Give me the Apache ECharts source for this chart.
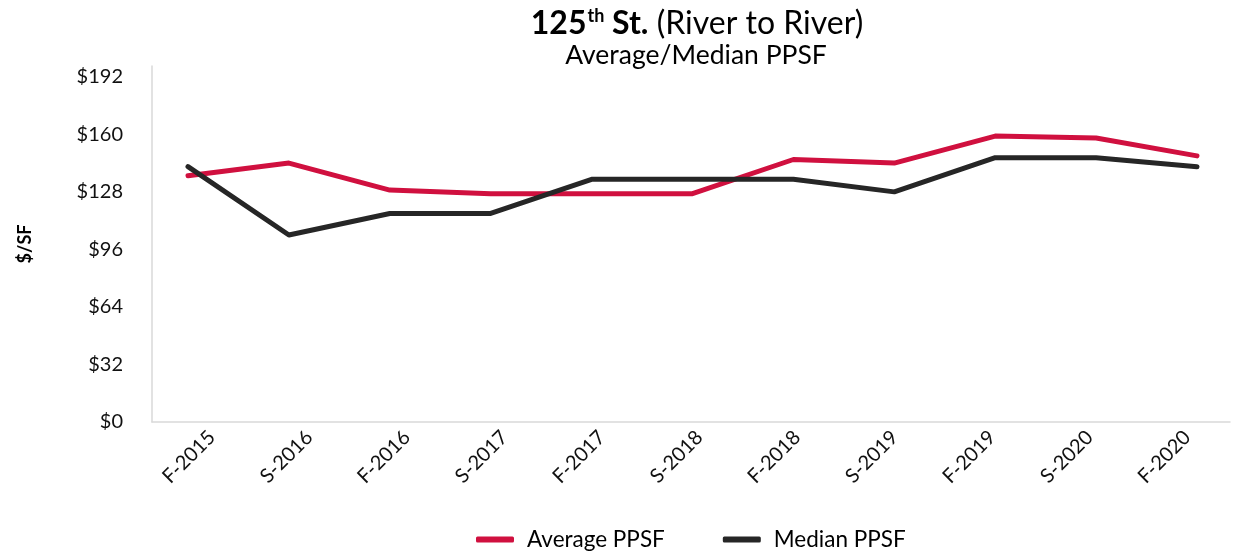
<!DOCTYPE html>
<html>
<head>
<meta charset="utf-8">
<style>
  html, body { margin: 0; padding: 0; background: #ffffff; }
  #chart { width: 1236px; height: 552px; }
</style>
<script src="https://cdn.jsdelivr.net/npm/echarts@6/dist/echarts.min.js"></script>
</head>
<body>
<div id="chart"></div>
<script>
// Survey periods (F = fall, S = spring)
const categories = ['F-2015', 'S-2016', 'F-2016', 'S-2017', 'F-2017', 'S-2018',
                    'F-2018', 'S-2019', 'F-2019', 'S-2020', 'F-2020'];
// Price per square foot, in dollars
const averagePPSF = [137, 144, 129, 127, 127, 127, 146, 144, 159, 158, 148];
const medianPPSF  = [142, 104, 116, 116, 135, 135, 135, 128, 147, 147, 142];
// Value axis ticks
const yMin = 0;
const yMax = 198;
const yStep = 32;

const FONT = 'Lato, "Noto Sans", sans-serif';
const RED = '#d0103f';
const DARK = '#262626';
const AXIS_GREY = '#d9d9d9';

const chart = echarts.init(document.getElementById('chart'));

chart.setOption({
  animation: false,
  backgroundColor: '#ffffff',
  textStyle: { fontFamily: FONT },
  title: [
    {
      text: '{b|125}{sup|th}{b| St.}{r| (River to River)}',
      left: 692,
      textAlign: 'center',
      top: 0,
      textStyle: {
        rich: {
          b: { fontFamily: FONT, fontSize: 32, fontWeight: 'bold', color: '#000', lineHeight: 37 },
          sup: { fontFamily: FONT, fontSize: 18, fontWeight: 'bold', color: '#000', padding: [0, 0, 15, 1], lineHeight: 37 },
          r: { fontFamily: FONT, fontSize: 32, fontWeight: 'normal', color: '#000', lineHeight: 37 }
        }
      }
    },
    {
      text: 'Average/Median PPSF',
      left: 691,
      textAlign: 'center',
      top: 37,
      textStyle: { fontFamily: FONT, fontSize: 26.5, fontWeight: 'normal', color: '#000' }
    }
  ],
  legend: {
    left: 471,
    top: 523,
    itemWidth: 38,
    itemHeight: 6,
    itemGap: 58,
    icon: 'roundRect',
    textStyle: { fontFamily: FONT, fontSize: 22.5, color: '#000', padding: [0, 0, 0, 8] },
    data: ['Average PPSF', 'Median PPSF']
  },
  grid: [
    // frame: axis lines and value labels
    { left: 152, right: 6, top: 66, bottom: 130 },
    // plotting area for the two lines
    { left: 188, right: 39, top: 66, bottom: 130 },
    // period labels, set slightly right of the frame bands
    { left: 163, right: -5, top: 66, bottom: 130 }
  ],
  xAxis: [
    {
      gridIndex: 0,
      type: 'category',
      data: categories,
      boundaryGap: true,
      axisLine: { show: true, lineStyle: { color: AXIS_GREY, width: 1.5 } },
      axisTick: { show: false },
      axisLabel: { show: false },
      splitLine: { show: false }
    },
    {
      gridIndex: 1,
      type: 'category',
      data: categories,
      boundaryGap: false,
      show: false
    },
    {
      gridIndex: 2,
      type: 'category',
      data: categories,
      boundaryGap: true,
      axisLine: { show: false },
      axisTick: { show: false },
      splitLine: { show: false },
      axisLabel: {
        rotate: 45,
        margin: 12,
        fontFamily: FONT,
        fontSize: 20,
        color: '#111'
      }
    }
  ],
  yAxis: [
    {
      gridIndex: 0,
      type: 'value',
      min: yMin,
      max: yMax,
      interval: yStep,
      name: '$/SF',
      nameLocation: 'middle',
      nameGap: 118,
      nameRotate: 90,
      nameTextStyle: { fontFamily: FONT, fontSize: 18, fontWeight: 'bold', color: '#000' },
      axisLine: { show: true, lineStyle: { color: AXIS_GREY, width: 1.5 } },
      axisTick: { show: false },
      splitLine: { show: false },
      axisLabel: {
        showMaxLabel: false,
        margin: 29,
        fontFamily: FONT,
        fontSize: 20,
        color: '#111',
        formatter: v => '$' + v
      }
    },
    {
      gridIndex: 1,
      type: 'value',
      min: yMin,
      max: yMax,
      interval: yStep,
      show: false,
      splitLine: { show: false }
    },
    {
      gridIndex: 2,
      type: 'value',
      min: yMin,
      max: yMax,
      interval: yStep,
      show: false,
      splitLine: { show: false }
    }
  ],
  series: [
    {
      name: 'Average PPSF',
      type: 'line',
      xAxisIndex: 1,
      yAxisIndex: 1,
      data: averagePPSF,
      symbol: 'none',
      lineStyle: { color: RED, width: 5, cap: 'round', join: 'round' },
      itemStyle: { color: RED },
      z: 3
    },
    {
      name: 'Median PPSF',
      type: 'line',
      xAxisIndex: 1,
      yAxisIndex: 1,
      data: medianPPSF,
      symbol: 'none',
      lineStyle: { color: DARK, width: 5, cap: 'round', join: 'round' },
      itemStyle: { color: DARK },
      z: 4
    }
  ]
});
</script>
</body>
</html>
